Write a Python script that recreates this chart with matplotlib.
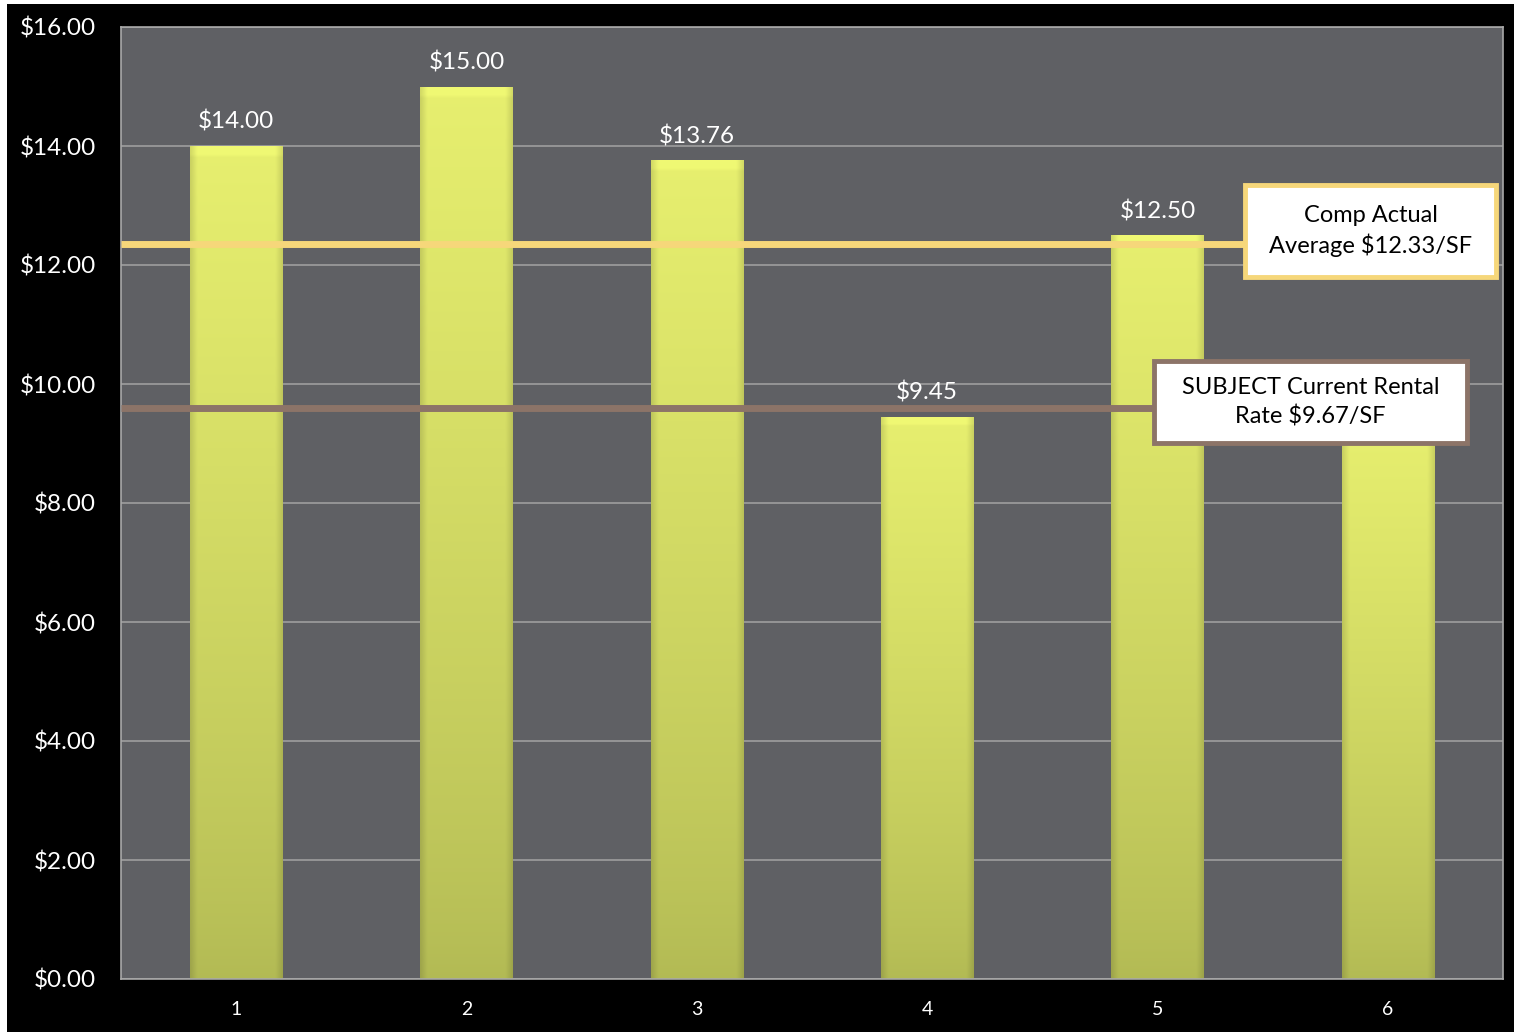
import numpy as np
import matplotlib
matplotlib.use("Agg")
import matplotlib.pyplot as plt
from matplotlib.patches import Rectangle

# ---- data ----
categories = ["1", "2", "3", "4", "5", "6"]
values = [14.00, 15.00, 13.76, 9.45, 12.50, 9.27]
value_labels = ["$14.00", "$15.00", "$13.76", "$9.45", "$12.50", ""]  # bar 6 label hidden by callout
yticks = [0, 2, 4, 6, 8, 10, 12, 14, 16]
ytick_labels = ["$0.00", "$2.00", "$4.00", "$6.00", "$8.00", "$10.00", "$12.00", "$14.00", "$16.00"]
avg_level = 12.35
subject_level = 9.60
avg_text = "Comp Actual\nAverage $12.33/SF"
subject_text = "SUBJECT Current Rental\nRate $9.67/SF"

plt.rcParams['font.family'] = ['Lato', 'DejaVu Sans']

W, H = 1514, 1032
fig = plt.figure(figsize=(W / 100, H / 100), dpi=100, facecolor="black")
# thin white margin at top/left like the reference
fig.add_artist(Rectangle((0, 0), 7 / W, 1, transform=fig.transFigure,
                         facecolor="white", edgecolor="none", zorder=-5))
fig.add_artist(Rectangle((0, 1 - 4 / H), 1, 4 / H, transform=fig.transFigure,
                         facecolor="white", edgecolor="none", zorder=-5))

ax = fig.add_axes([121 / W, 1 - 979 / H, (1503 - 121) / W, (979 - 27) / H])
ax.set_zorder(1)
ax.set_facecolor("#5f6064")
for s in ax.spines.values():
    s.set_color("#a9a9a9")
    s.set_linewidth(1.2)

x = np.arange(1, len(categories) + 1)
bw = 0.4

# gradient image for bars
ny, nx = 256, 64
tv = np.linspace(0, 1, ny)[:, None]  # 0 bottom .. 1 top
top_c = np.array([0.905, 0.937, 0.435])
bot_c = np.array([0.70, 0.73, 0.33])
tx = np.linspace(-1, 1, nx)[None, :]
edge = np.clip((np.abs(tx) - 0.85) / 0.15, 0, 1)

bars = ax.bar(x, values, width=bw, color="none", edgecolor="none", zorder=2)
for b, v in zip(bars, values):
    x0 = b.get_x()
    img = bot_c[None, None, :] + (top_c - bot_c)[None, None, :] * (tv[:, :, None] ** 0.8)
    img = np.broadcast_to(img, (ny, nx, 3)) * (1 - 0.12 * edge[:, :, None])
    img = np.array(img)
    topfrac = 0.12 / max(v, 0.1)
    mask = tv[:, 0] > 1 - topfrac
    img[mask] = np.minimum(img[mask] * 1.04, 1)
    im = ax.imshow(img[::-1], extent=[x0, x0 + bw, 0, v], aspect="auto",
                   zorder=2, interpolation="bilinear")
    im.set_clip_path(b)

for xi, v, lab in zip(x, values, value_labels):
    if lab:
        ax.text(xi, v + 0.22, lab, ha="center", va="bottom", color="white",
                fontsize=17.5, zorder=3)

ax.set_xlim(0.5, len(categories) + 0.5)
ax.set_ylim(0, 16)
ax.set_yticks(yticks)
ax.set_yticklabels(ytick_labels)
ax.set_xticks(x)
ax.set_xticklabels(categories)
ax.tick_params(axis="y", colors="white", labelsize=17.5, length=0, pad=18)
ax.tick_params(axis="x", colors="white", labelsize=14, length=0, pad=16)
ax.yaxis.grid(True, color="#a3a3a3", linewidth=1.1, zorder=1)
ax.set_axisbelow(True)

# reference lines
box1 = (5.380, 11.80, 6.470 - 5.380, 13.345 - 11.80)
box2 = (4.985, 9.008, 6.344 - 4.985, 10.387 - 9.008)
ax.plot([0.5, box1[0]], [avg_level, avg_level], color="#f6d77a", lw=5, zorder=4,
        solid_capstyle="butt")
ax.plot([0.5, box2[0]], [subject_level, subject_level], color="#8c7468", lw=5, zorder=4,
        solid_capstyle="butt")

for (bx, by, bwid, bh), ec, txt in [(box1, "#f6d77a", avg_text), (box2, "#8c7468", subject_text)]:
    ax.add_patch(Rectangle((bx, by), bwid, bh, facecolor="white", edgecolor=ec,
                           lw=3.5, zorder=5, clip_on=False))
    ax.text(bx + bwid / 2, by + bh / 2, txt, ha="center", va="center", color="black",
            fontsize=17, zorder=6, linespacing=1.4)

fig.savefig("out.png", dpi=100, facecolor=fig.get_facecolor())
